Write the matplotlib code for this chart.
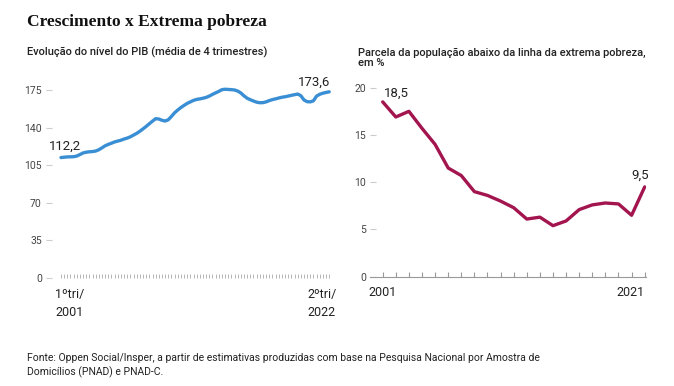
import matplotlib
matplotlib.use("Agg")
import matplotlib.pyplot as plt

W, H = 674, 386

# PIB (média de 4 trimestres), 1º tri/2001 a 2º tri/2022
pib = [112.2, 112.5, 112.8, 112.9, 113.0, 113.6, 115.0, 116.5, 117.2, 117.6,
       117.8, 118.3, 119.5, 121.3, 123.2, 124.5, 125.6, 126.8, 127.6, 128.4,
       129.5, 130.4, 131.6, 133.2, 134.8, 136.8, 139.0, 141.3, 143.8, 146.2,
       148.5, 148.2, 147.0, 146.3, 147.5, 150.6, 154.0, 156.6, 158.9, 160.9,
       162.8, 164.2, 165.6, 166.5, 167.0, 167.6, 168.4, 169.6, 171.2, 172.6,
       174.0, 175.6, 176.0, 175.8, 175.6, 175.3, 174.3, 172.5, 169.8, 167.6,
       166.2, 165.0, 163.9, 163.4, 163.5, 164.2, 165.4, 166.3, 167.0, 167.8,
       168.5, 169.0, 169.6, 170.3, 170.9, 171.5, 170.0, 166.0, 164.4, 164.2,
       165.2, 169.6, 171.3, 172.3, 173.0, 173.6]
pib_xlabels = ["1ºtri/\n2001", "2ºtri/\n2022"]
pib_yticks = [0, 35, 70, 105, 140, 175]

# extrema pobreza, % da população
anos = list(range(2001, 2022))
pobreza = [18.5, 16.9, 17.5, 15.7, 14.0, 11.5, 10.7, 9.0, 8.6, 8.0, 7.3,
           6.1, 6.3, 5.4, 5.9, 7.1, 7.6, 7.8, 7.7, 6.5, 9.5]
pob_yticks = [0, 5, 10, 15, 20]

azul = "#3a8fd4"
vinho = "#a3154f"
texto = "#222222"

plt.rcParams['font.family'] = ['Roboto', 'DejaVu Sans']

fig = plt.figure(figsize=(W / 100, H / 100), dpi=100)

def px(x, y):
    return x / W, 1 - y / H

# textos gerais (va='baseline' fica na ultima linha)
fig.text(*px(27, 26), "Crescimento x Extrema pobreza", fontsize=12.5,
         fontweight='bold', family=['Liberation Serif', 'DejaVu Serif'],
         color='#111111', va='baseline')
fig.text(*px(27, 55), "Evolução do nível do PIB (média de 4 trimestres)",
         fontsize=8.05, fontweight='medium', color=texto, va='baseline')
fig.text(*px(358, 66), "Parcela da população abaixo da linha da extrema pobreza,\nem %",
         fontsize=8.05, fontweight='medium', color=texto, va='baseline', linespacing=1.05)
fig.text(*px(27, 375), "Fonte: Oppen Social/Insper, a partir de estimativas produzidas com base na Pesquisa Nacional por Amostra de\nDomicílios (PNAD) e PNAD-C.",
         fontsize=7.45, color=texto, va='baseline', linespacing=1.3)

# grafico do PIB
ax1 = fig.add_axes([46 / W, (H - 277.7) / H, (333 - 46) / W, (277.7 - 79.6) / H])
x1 = list(range(len(pib)))
ax1.plot(x1, pib, color=azul, lw=2.4, solid_capstyle='round', solid_joinstyle='round')
ax1.set_xlim(-4.75, 86.2)
ax1.set_ylim(0, 185)
for s in ax1.spines.values():
    s.set_visible(False)
ax1.set_yticks(pib_yticks)
ax1.tick_params(axis='y', direction='in', length=4.3, width=0.8, color='#cccccc',
                labelsize=7.5, labelcolor='#444444', pad=3)
ax1.set_xticks(x1)
ax1.set_xticklabels([])
ax1.tick_params(axis='x', direction='in', length=3, width=0.7, color='#b5b5b5')
ax1.annotate(pib_xlabels[0], xy=(0, 0), xycoords=('data', 'axes fraction'),
             xytext=(-4.3, -7.6), textcoords='offset points', ha='left', va='top',
             fontsize=9, color=texto, linespacing=1.45)
ax1.annotate(pib_xlabels[1], xy=(len(pib) - 1, 0), xycoords=('data', 'axes fraction'),
             xytext=(-16, -7.6), textcoords='offset points', ha='left', va='top',
             fontsize=9, color=texto, linespacing=1.45)
ax1.annotate("112,2", (0, pib[0]), xytext=(3, 8), textcoords='offset points',
             ha='center', va='center', fontsize=9.5, color=texto)
ax1.annotate("173,6", (len(pib) - 1, pib[-1]), xytext=(0.5, 7.2), textcoords='offset points',
             ha='right', va='center', fontsize=9.5, color=texto)

# grafico da extrema pobreza
ax2 = fig.add_axes([370 / W, (H - 276.7) / H, (646 - 370) / W, (276.7 - 78.25) / H])
ax2.plot(anos, pobreza, color=vinho, lw=2.4, solid_capstyle='round', solid_joinstyle='round')
ax2.set_xlim(2000.03, 2021.1)
ax2.set_ylim(0, 21)
for k in ['top', 'right', 'left']:
    ax2.spines[k].set_visible(False)
ax2.spines['bottom'].set_color('#999999')
ax2.spines['bottom'].set_linewidth(0.8)
ax2.set_yticks(pob_yticks)
ax2.tick_params(axis='y', direction='in', length=4, width=0.8, color='#cccccc',
                labelsize=7.5, labelcolor='#444444', pad=3)
ax2.set_xticks([anos[0], anos[-1]])
ax2.set_xticklabels([str(anos[0]), str(anos[-1])])
ax2.set_xticks(anos, minor=True)
ax2.tick_params(axis='x', which='both', direction='in', length=3.6, width=0.8,
                color='#999999', labelsize=9, labelcolor=texto, pad=6.5)
ax2.get_xticklabels()[1].set_ha('right')
ax2.annotate("18,5", (anos[0], pobreza[0]), xytext=(0.7, 6), textcoords='offset points',
             ha='left', va='center', fontsize=9.5, color=texto)
ax2.annotate("9,5", (anos[-1], pobreza[-1]), xytext=(-3.4, 8.4), textcoords='offset points',
             ha='center', va='center', fontsize=9.5, color=texto)

fig.savefig("out.png", dpi=100)
